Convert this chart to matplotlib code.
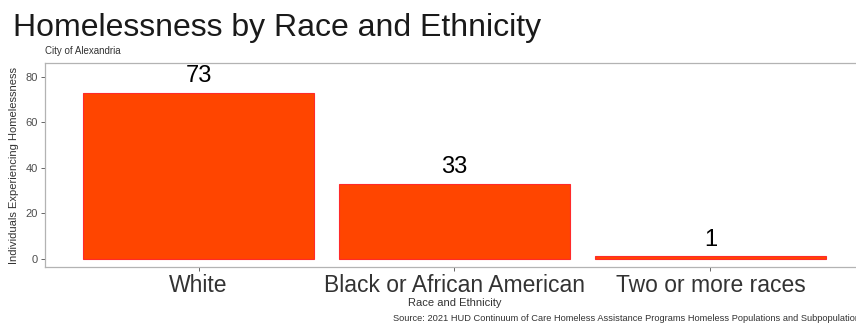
import matplotlib.pyplot as plt

plt.rcParams['font.family'] = ['Liberation Sans', 'DejaVu Sans']

races = ['White', 'Black or African American', 'Two or more races']
counts = [73, 33, 1]
yticks = [0, 20, 40, 60, 80]

fig = plt.figure(figsize=(8.56, 3.25), dpi=100)
ax = fig.add_axes([45 / 856, 58 / 325, 819 / 856, 204 / 325])

x = list(range(1, len(races) + 1))
ax.bar(x, counts, width=0.9, color='#FF4500', edgecolor='#FF2A2A', linewidth=0.8)
for xi, c in zip(x, counts):
    ax.annotate(str(c), (xi, c), xytext=(0, 4), textcoords='offset points',
                ha='center', va='bottom', fontsize=17, color='black')

ax.set_xlim(0.4, 3.6)
ax.set_ylim(-3.65, 86.2)
ax.set_xticks(x)
ax.set_xticklabels(races, fontsize=16.5, color='#333333')
ax.set_yticks(yticks)
ax.tick_params(axis='y', labelsize=8, colors='#4d4d4d', length=3, width=0.6, pad=2)
ax.tick_params(axis='x', colors='#4d4d4d', length=3, width=0.6, pad=2)
for lab in ax.get_xticklabels():
    lab.set_color('#333333')
for s in ax.spines.values():
    s.set_color('#b3b3b3')
    s.set_linewidth(0.9)

ax.set_ylabel('Individuals Experiencing Homelessness', fontsize=8, color='#333333', labelpad=5)
ax.set_xlabel('Race and Ethnicity', fontsize=8, color='#333333', labelpad=1)

fig.text(13 / 856, 1 - 36 / 325, 'Homelessness by Race and Ethnicity', fontsize=23,
         color='#1a1a1a', ha='left', va='baseline')
fig.text(45 / 856, 1 - 54 / 325, 'City of Alexandria', fontsize=7, color='#333333',
         ha='left', va='baseline')
fig.text(393 / 856, 1 - 321 / 325,
         'Source: 2021 HUD Continuum of Care Homeless Assistance Programs Homeless Populations and Subpopulations',
         fontsize=6.7, color='#333333', ha='left', va='baseline')

fig.savefig('out.png', dpi=100)
